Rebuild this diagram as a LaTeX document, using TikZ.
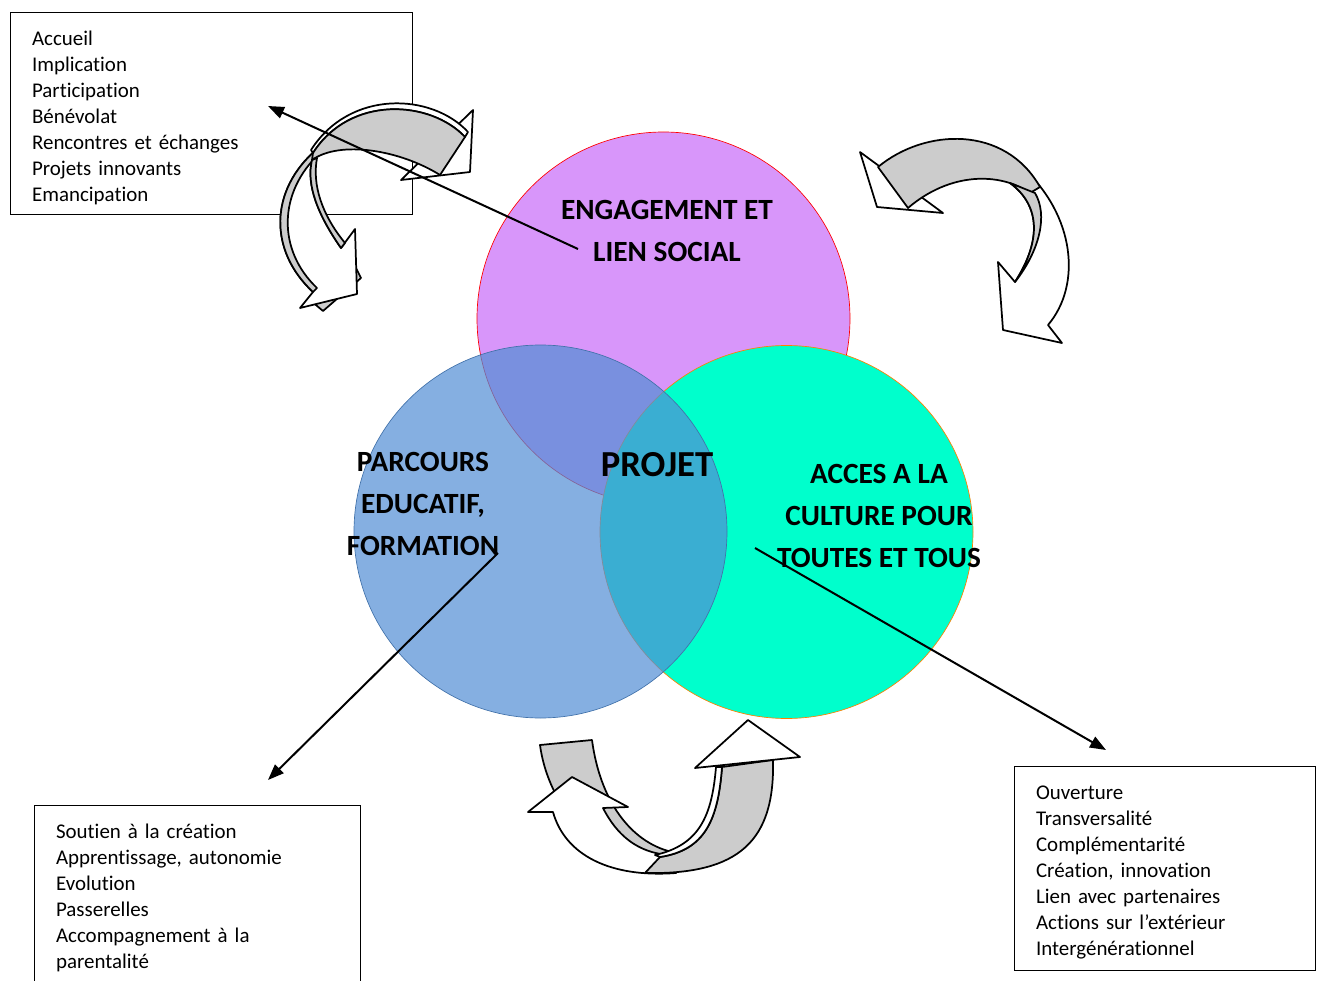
\documentclass[tikz,border=0pt]{standalone}
\usepackage{fontspec}
\setmainfont{Carlito}[Ligatures={NoCommon}]
\usetikzlibrary{arrows.meta}
\definecolor{pinkc}{RGB}{216,150,250}
\definecolor{bluec}{RGB}{83,142,213}
\definecolor{greenc}{RGB}{0,255,204}
\definecolor{arrgray}{RGB}{204,204,204}
\begin{document}
\begin{tikzpicture}[x=0.75pt,y=-0.75pt,
  circ/.style={circle, inner sep=0pt, minimum size=279.75pt, line width=0.5pt},
  lbl/.style={font=\fontsize{22}{31.5}\selectfont\bfseries, align=center, inner sep=0pt},
  listbox/.style={draw, line width=1.1pt, font=\fontsize{15.7}{19.5}\selectfont, align=left, inner xsep=16pt, inner ysep=0pt, anchor=north west},
  ptr/.style={line width=1.5pt, -{Triangle[length=12pt,width=9pt]}},
  carrow/.style={draw, line width=1.3pt, line join=round},
]
\useasboundingbox (0,0) rectangle (1322,981);
\clip (0,0) rectangle (1322,981);

% circles
\node[circ, draw=red, fill=pinkc] (eng) at (663.5,318.5) {};
\node[circ, draw=orange, fill=greenc] (acc) at (786.5,532) {};
\node[circ, draw=bluec!80!black, fill=bluec, fill opacity=0.71] (par) at (540.5,531.5) {};

% boxes
\node[listbox, minimum width=301.5pt, minimum height=151.5pt, text width=269.5pt] (b1) at (10,12)
 {\rule{0pt}{16.5pt}Accueil\\Implication\\Participation\\Bénévolat\\Rencontres et échanges\\Projets innovants\\Emancipation};
\node[listbox, minimum width=225.75pt, minimum height=153pt, text width=193.75pt] (b3) at (1014,766)
 {\rule{0pt}{16.5pt}Ouverture\\Transversalité\\Complémentarité\\Création, innovation\\Lien avec partenaires\\Actions sur l’extérieur\\Intergénérationnel};
\node[listbox, minimum width=244.5pt, minimum height=135pt, text width=212.5pt] (b2) at (34,805)
 {\rule{0pt}{13.5pt}Soutien à la création\\Apprentissage, autonomie\\Evolution\\Passerelles\\Accompagnement à la\\parentalité};

% ---- top-left curved arrows
\path[carrow, fill=arrgray] (310,300) -- (323,311) -- (361,278) -- (356,268) -- cycle;
\path[carrow, fill=white] (316,150) .. controls (270,190) and (268,250) .. (313,292) -- (300,308) -- (357,294) -- (355,229) -- (341,248) .. controls (318,215) and (306,185) .. (312,160) -- cycle;
\path[carrow, fill=arrgray] (316,150) .. controls (270,190) and (268,250) .. (313,292) -- (317,288) .. controls (277,250) and (278,192) .. (320,153) -- cycle;
\path[carrow, fill=arrgray] (341,248) .. controls (318,215) and (306,185) .. (312,160) -- (317,158) .. controls (312,185) and (322,215) .. (345,243) -- cycle;
\path[carrow, fill=white] (473,110) -- (470,172) -- (401,180) -- cycle;
\path[carrow, fill=white] (311,150) .. controls (350,89) and (432,93) .. (468,132) -- (465,137) .. controls (430,100) and (350,95) .. (313,153) -- cycle;
\path[carrow, fill=arrgray] (313,153) .. controls (350,95) and (430,100) .. (465,137) -- (440,175) .. controls (400,150) and (340,140) .. (312,160) -- cycle;

% ---- top-right curved arrows
\path[carrow, fill=white] (860,152) -- (877,207) -- (943,213) -- cycle;
\path[carrow, fill=white] (1022,167) .. controls (1075,215) and (1082,285) .. (1048,325) -- (1062,343) -- (1003,330) -- (998,262) -- (1015,282) .. controls (1042,240) and (1040,205) .. (1010,183) -- cycle;
\path[carrow, fill=arrgray] (878,167) .. controls (925,128) and (1005,125) .. (1040,187) -- (1030,193) .. controls (1000,172) and (950,172) .. (908,208) -- cycle;
\path[carrow, fill=arrgray] (1010,183) .. controls (1040,205) and (1042,240) .. (1015,282) .. controls (1040,250) and (1048,215) .. (1035,193) -- cycle;

% ---- bottom curved arrows
\path[carrow, fill=arrgray] (540,745) -- (592,740) .. controls (600,800) and (630,842) .. (672,852) -- (660,872) .. controls (595,862) and (548,805) .. (540,745) -- cycle;
\path[carrow, fill=white] (553,812) -- (528,812) -- (572,777) -- (628,807) -- (603,808) .. controls (622,845) and (650,858) .. (688,855) -- (676,873) .. controls (610,878) and (565,855) .. (553,812) -- cycle;
\path[carrow, fill=arrgray] (722,767) .. controls (718,820) and (705,850) .. (660,857) -- (645,873) .. controls (740,875) and (775,840) .. (773,760) -- cycle;
\path[carrow, fill=white] (722,767) .. controls (718,820) and (705,850) .. (660,857) -- (655,855) .. controls (700,845) and (712,815) .. (716,767) -- cycle;
\path[carrow, fill=white] (695,768) -- (748,720) -- (800,757) -- cycle;

% labels
\node[lbl] (engt) at (667,231) {ENGAGEMENT ET\\LIEN SOCIAL};
\node[lbl] (part) at (423,504) {PARCOURS\\EDUCATIF,\\FORMATION};
\node[lbl] (acct) at (879,515.5) {ACCES A LA\\CULTURE POUR\\TOUTES ET TOUS};
\node[font=\fontsize{27.5}{30}\selectfont\bfseries, inner sep=0pt] (proj) at (657,465) {PROJET};

% pointers
\coordinate (p1s) at (578,249); \coordinate (p1e) at (268,106);
\coordinate (p2s) at (498,553); \coordinate (p2e) at (268,780);
\coordinate (p3s) at (755,548); \coordinate (p3e) at (1106,750);
\draw[ptr] (p1s) -- (p1e);
\draw[ptr] (p2s) -- (p2e);
\draw[ptr] (p3s) -- (p3e);
\end{tikzpicture}
\end{document}
